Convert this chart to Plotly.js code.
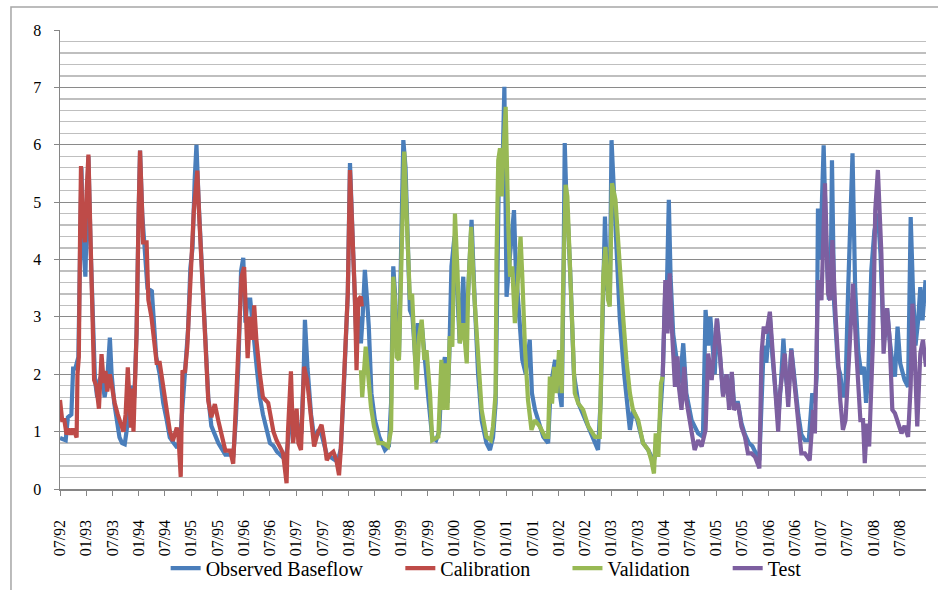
<!DOCTYPE html>
<html>
<head>
<meta charset="utf-8">
<script src="https://cdn.plot.ly/plotly-3.0.1.min.js"></script>
<style>
  html, body { margin: 0; padding: 0; background: #ffffff; }
  #chart { width: 938px; height: 590px; }
</style>
</head>
<body>
<div id="chart"></div>
<script>
// x values: months elapsed since July 1992 (position)
const tickLabels = ['07/92','01/93','07/93','01/94','07/94','01/95','07/95','01/96','07/96','01/97','07/97',
  '01/98','07/98','01/99','07/99','01/00','07/00','01/01','07/01','01/02','07/02','01/03','07/03',
  '01/04','07/04','01/05','07/05','01/06','07/06','01/07','07/07','01/08','07/08'];

const obsX = [
  0,0.7,1.3,1.8,2.6,3.0,3.5,4.2,4.6,4.9,
  5.3,5.8,6.2,6.5,7.0,7.5,8.0,8.5,9.0,9.6,
  10.2,10.8,11.4,11.8,12.4,13.0,13.6,14.2,14.8,15.2,
  15.8,16.4,17.0,17.5,18.0,18.3,18.8,19.3,20.0,21.0,
  21.4,22.0,22.8,23.6,24.4,25.1,26.0,26.8,27.5,28.2,
  28.8,29.3,29.8,30.3,30.8,31.2,31.7,32.4,33.1,33.9,
  34.6,35.4,36.2,37.0,37.8,38.9,39.6,40.2,40.8,41.4,
  41.9,42.4,42.9,43.5,44.0,44.5,45.0,45.7,46.4,47.3,
  48.0,48.8,49.6,50.3,51.0,51.6,52.1,52.8,53.3,54.1,
  54.6,55.2,55.7,56.0,56.6,57.4,58.1,58.9,59.8,60.4,
  61.0,62.0,63.0,63.6,64.2,64.8,65.2,65.8,66.3,66.8,
  67.4,67.8,68.3,68.8,69.2,69.7,70.2,70.6,71.2,72.0,
  73.0,74.3,75.2,75.7,76.2,76.6,77.0,77.5,78.0,78.5,
  79.0,79.5,80.0,80.6,81.2,81.8,82.3,82.8,83.4,84.2,
  85.1,86.0,86.7,87.3,88.0,88.6,89.0,89.5,90.2,90.8,
  91.4,92.2,92.7,93.3,94.1,94.8,95.6,96.4,97.5,98.3,
  99.0,99.6,100.0,100.4,100.9,101.3,101.6,101.9,102.1,102.8,
  103.8,104.2,105.1,105.7,106.5,107.4,107.9,108.6,110.5,111.6,
  112.2,113.2,114.0,114.7,115.1,115.4,115.8,116.2,116.8,117.5,
  118.5,119.6,121.0,122.0,123.0,123.6,124.2,124.6,125.1,125.7,
  126.1,126.6,127.2,128.0,129.0,130.3,131.0,132.0,133.3,134.5,
  135.3,135.8,136.5,137.0,137.8,138.4,138.8,139.2,139.6,140.2,
  141.0,141.7,142.5,143.2,144.4,145.9,147.0,147.6,148.2,148.7,
  149.2,149.7,150.2,150.9,151.6,152.4,153.0,153.6,154.1,155.0,
  155.8,156.6,157.5,158.3,159.2,159.9,160.4,160.9,161.5,162.3,
  162.9,163.4,164.2,164.8,165.4,165.9,166.5,167.2,168.0,168.8,
  169.5,170.3,171.2,172.0,172.6,173.0,173.3,173.8,174.6,175.2,
  175.8,176.2,176.5,177.0,177.9,178.4,179.0,179.6,180.2,181.2,
  181.8,182.5,183.2,183.8,184.3,184.8,185.5,186.2,187.0,187.6,
  188.3,189.1,189.7,190.3,190.9,191.5,192.1,193.1,193.9,194.5,
  195.0,195.6,196.2,196.7,197.2,197.9];
const obsY = [
  0.89,0.87,0.85,1.25,1.3,2.1,2.1,2.3,4.0,5.6,
  4.3,3.7,5.0,5.8,4.2,2.8,1.9,1.6,1.9,2.0,
  1.6,1.9,2.64,2.0,1.5,1.2,0.9,0.8,0.78,1.0,
  1.5,1.8,1.6,2.7,4.9,5.9,4.8,4.2,3.5,3.45,
  2.9,2.3,2.0,1.5,1.2,0.9,0.8,0.72,0.9,1.6,
  2.3,2.8,3.85,4.2,5.4,6.0,5.0,3.8,2.7,1.6,
  1.1,0.95,0.8,0.7,0.6,0.6,0.55,1.2,2.2,3.8,
  4.03,2.9,3.3,3.3,2.8,2.5,2.1,1.6,1.3,1.0,
  0.8,0.75,0.65,0.6,0.55,0.5,0.8,1.3,1.0,1.2,
  1.0,1.0,2.0,2.95,2.1,1.3,0.9,1.0,0.95,0.8,
  0.6,0.55,0.5,0.5,0.7,1.6,2.5,3.4,5.68,4.6,
  3.4,2.5,3.0,2.54,3.0,3.82,3.3,2.83,1.67,1.2,
  0.91,0.68,0.75,1.5,3.88,3.4,2.4,2.3,4.2,6.08,
  5.6,4.0,3.12,3.0,2.3,2.89,2.6,2.8,2.2,1.6,
  0.9,0.85,1.0,2.0,2.3,1.5,2.3,3.88,4.4,3.5,
  2.54,3.7,2.6,3.4,4.69,3.3,2.0,1.2,0.8,0.68,
  0.9,1.5,4.5,5.8,5.27,6.0,7.01,5.0,3.35,4.0,
  4.86,3.88,2.83,2.25,2.0,2.6,1.67,1.38,0.91,0.8,
  1.8,2.25,1.8,1.43,3.5,6.03,5.0,4.57,3.5,2.0,
  1.5,1.3,1.03,0.85,0.68,1.5,3.2,4.75,3.5,3.3,
  6.08,5.27,4.6,2.95,2.0,1.03,1.38,1.2,0.8,0.68,
  0.55,0.5,0.7,1.0,1.96,3.5,3.64,5.04,3.7,2.7,
  2.25,1.84,2.54,1.67,1.2,0.97,0.91,3.12,2.5,3.0,
  2.5,2.0,2.97,2.4,1.65,2.0,1.5,2.0,1.5,1.5,
  1.15,0.95,0.8,0.75,0.6,0.5,1.5,2.5,2.2,3.0,
  2.3,1.84,1.2,1.8,2.62,2.0,1.6,2.45,1.8,1.3,
  0.95,0.85,0.85,1.67,1.5,1.96,4.89,4.0,5.99,4.2,
  3.3,3.5,5.73,3.23,2.13,2.0,1.6,1.78,3.47,5.85,
  3.5,2.4,2.0,2.13,1.5,2.0,3.82,4.5,4.8,4.1,
  2.6,3.15,2.6,2.2,1.96,2.83,2.19,1.9,1.78,4.74,
  3.5,2.5,2.94,3.52,2.94,3.64];

const calX = [
  0,0.5,1,1.5,2,2.5,3,3.5,3.8,4.0,
  4.3,4.6,4.8,5.2,5.7,6.1,6.5,7.0,7.5,7.8,
  8.3,8.9,9.5,10.0,10.4,10.8,11.4,12.0,12.5,13.2,
  14.0,14.5,15.0,15.5,16.2,16.5,16.8,17.5,18.0,18.3,
  18.7,19.0,19.8,20.2,20.9,21.3,22.1,22.8,23.6,24.4,
  25.1,25.8,26.7,27.1,27.6,28.0,28.6,29.1,29.7,30.1,
  30.6,31.0,31.4,31.8,32.4,33.1,33.9,34.6,35.4,36.2,
  37.0,37.8,38.9,39.6,40.0,40.8,41.5,42.1,42.9,43.4,
  44.0,44.4,44.9,45.7,46.4,47.6,48.8,49.5,50.3,51.0,
  51.8,52.1,52.8,53.3,54.1,54.5,55.1,55.8,56.5,57.4,
  58.1,58.9,59.8,60.4,61.0,61.7,62.5,63.2,63.8,64.2,
  64.8,65.1,65.8,66.3,66.8,67.4,67.8,68.2,68.8,69.0];
const calY = [
  1.55,1.2,1.2,0.95,1.05,0.95,1.05,0.95,0.9,2.0,
  2.3,4.5,5.63,4.6,4.3,5.2,5.83,4.3,2.8,1.9,
  1.8,1.4,2.35,1.85,2.06,1.7,2.0,1.7,1.5,1.3,
  1.1,1.0,1.3,2.12,1.07,1.75,1.0,2.7,4.9,5.9,
  5.0,4.3,4.3,3.3,3.0,2.7,2.2,2.2,1.77,1.37,
  1.02,0.84,1.07,0.9,0.21,2.04,2.05,2.48,3.6,4.2,
  4.85,5.2,5.55,4.8,3.75,2.7,1.54,1.25,1.48,1.19,
  0.96,0.67,0.67,0.44,1.1,2.35,3.7,3.87,2.28,3.0,
  2.6,3.2,2.6,2.0,1.6,1.5,1.0,0.85,0.74,0.62,
  0.1,0.97,2.05,0.8,1.4,0.8,0.68,2.13,1.9,1.23,
  0.74,0.97,1.12,0.85,0.5,0.6,0.65,0.5,0.24,0.68,
  1.67,2.48,3.41,5.56,4.57,3.4,2.07,3.3,3.35,3.18];

const valX = [
  68.8,69.1,69.9,70.5,71.1,71.8,72.8,73.9,75.0,75.7,
  76.2,76.6,77.0,77.5,78.1,78.7,79.5,80.0,80.5,81.0,
  81.5,82.1,82.7,83.3,83.8,84.6,85.1,86.5,87.2,87.6,
  88.2,88.6,89.1,89.7,90.3,90.9,91.4,92.2,93.0,93.3,
  94.0,94.7,95.6,96.4,97.5,98.5,99.0,99.6,99.8,100.2,
  100.6,101.0,101.3,101.9,102.5,102.9,103.4,104.0,104.6,105.3,
  105.7,106.3,107.0,107.8,108.6,109.7,110.9,111.6,112.0,112.5,
  113.0,113.5,114.1,114.7,115.0,115.6,116.0,116.6,117.1,117.7,
  118.5,119.6,120.8,122.3,123.4,123.8,124.2,124.7,125.3,125.7,
  126.2,127.0,127.8,128.8,129.5,130.3,131.0,132.2,133.3,134.5,
  135.2,135.8,136.2,136.8,137.4,137.8];
const valY = [
  2.07,1.6,2.48,1.96,1.43,1.09,0.8,0.8,0.74,1.03,
  3.7,3.3,2.3,2.25,4.0,5.88,4.28,3.3,3.4,2.54,
  1.73,2.66,2.95,2.25,2.42,1.67,0.85,0.91,2.25,1.38,
  2.19,1.38,2.66,2.48,4.8,3.76,2.54,2.89,2.19,3.4,
  4.57,3.4,2.25,1.38,0.91,0.85,1.09,1.67,4.0,5.73,
  5.94,5.1,5.73,6.66,4.57,3.7,3.88,2.89,3.53,4.4,
  3.7,2.48,1.55,1.03,1.2,1.09,0.91,0.91,1.96,1.49,
  2.13,1.67,2.42,1.67,3.41,5.3,5.1,4.0,2.83,1.67,
  1.49,1.38,1.09,0.91,0.91,2.25,3.7,4.22,3.3,3.18,
  5.33,5.04,4.0,2.95,2.25,1.67,1.38,1.2,0.8,0.68,
  0.5,0.27,0.97,0.56,1.84,1.96];

const testX = [
  137.8,138.4,138.9,139.4,139.8,140.6,141.2,141.5,142.1,142.7,
  143.2,144.4,145.1,145.9,146.7,147.6,148.2,149.0,149.7,150.2,
  150.9,151.6,152.4,153.0,153.6,154.1,155.0,155.8,156.6,157.3,
  158.1,158.9,159.9,160.4,160.9,161.5,162.3,162.9,163.4,164.2,
  164.6,165.7,166.5,167.2,168.0,168.8,169.5,170.3,171.4,172.2,
  172.6,173.3,174.1,174.9,175.6,176.1,176.6,177.2,177.9,178.4,
  179.0,179.6,180.2,181.3,182.1,183.0,183.6,184.0,184.5,185.0,
  185.9,186.4,187.0,187.8,188.3,189.1,189.7,190.3,190.9,191.5,
  192.4,193.1,193.9,194.5,194.9,195.4,196.0,196.7,197.3,198.0];
const testY = [
  1.96,3.64,2.71,3.76,2.95,1.78,2.31,1.78,1.38,2.13,
  1.55,1.03,0.68,0.85,0.74,1.03,2.36,1.9,2.54,2.97,
  2.36,1.61,2.0,1.38,2.04,1.38,1.49,1.09,0.91,0.62,
  0.62,0.56,0.36,2.36,2.83,2.71,3.09,2.36,1.84,1.0,
  1.67,2.36,1.43,2.42,1.78,1.2,0.62,0.62,0.5,1.38,
  0.97,3.64,3.29,5.33,3.41,3.29,4.34,3.2,2.13,1.55,
  1.03,1.2,2.0,3.58,2.36,1.2,1.2,0.45,1.14,0.74,
  2.65,4.86,5.56,4.1,2.36,3.15,2.6,1.38,1.32,1.2,
  0.97,1.1,0.91,1.8,3.23,2.36,1.09,2.36,2.6,2.13];

const seriesNames = ['Observed Baseflow', 'Calibration', 'Validation', 'Test'];
const seriesColors = ['#4A7EBB', '#BE4B48', '#98B954', '#7D5FA0'];

const FONT = 'Liberation Serif';
const xs = [obsX, calX, valX, testX];
const ys = [obsY, calY, valY, testY];
const legendIds = ['legend', 'legend2', 'legend3', 'legend4'];

const traces = xs.map((x, i) => ({
  type: 'scatter',
  mode: 'lines',
  name: seriesNames[i],
  x: x,
  y: ys[i],
  legend: legendIds[i],
  line: { color: seriesColors[i], width: 4.2 },
  hoverinfo: 'skip'
}));

const legendXs = [0.122, 0.393, 0.586, 0.771];
const legendBase = {
  orientation: 'h',
  yanchor: 'middle',
  xanchor: 'left',
  y: -0.1726,
  bgcolor: 'rgba(0,0,0,0)',
  borderwidth: 0,
  font: { family: FONT, size: 20, color: '#000000' }
};

const layout = {
  width: 938,
  height: 590,
  margin: { l: 60, r: 12, t: 30, b: 101, pad: 0, autoexpand: false },
  paper_bgcolor: '#ffffff',
  plot_bgcolor: '#ffffff',
  font: { family: FONT, size: 16, color: '#000000' },
  showlegend: true,
  xaxis: {
    type: 'linear',
    automargin: false,
    range: [0, 198],
    tickmode: 'array',
    tickvals: tickLabels.map((_, i) => i * 6),
    ticktext: tickLabels,
    tickangle: -90,
    ticks: 'outside',
    ticklen: 5,
    tickwidth: 1,
    tickcolor: '#868686',
    ticklabelstandoff: 18,
    showline: true,
    linecolor: '#868686',
    linewidth: 1.5,
    showgrid: false,
    zeroline: false,
    tickfont: { family: FONT, size: 16, color: '#000000' },
    fixedrange: true
  },
  yaxis: {
    automargin: false,
    range: [0, 8],
    tickmode: 'linear',
    tick0: 0,
    dtick: 1,
    ticks: 'outside',
    ticklen: 5,
    tickwidth: 1,
    tickcolor: '#868686',
    ticklabelstandoff: 9,
    showline: true,
    linecolor: '#868686',
    linewidth: 1.5,
    showgrid: true,
    gridcolor: '#8a8a8a',
    gridwidth: 1.2,
    minor: { dtick: 0.2, showgrid: true, gridcolor: '#bfbfbf', gridwidth: 1.3, ticks: '' },
    zeroline: false,
    tickfont: { family: FONT, size: 16, color: '#000000' },
    fixedrange: true
  },
  shapes: [{
    type: 'rect', xref: 'paper', yref: 'paper',
    x0: -0.0566, x1: 1.2, y0: -0.4, y1: 1.05,
    line: { color: '#a6a6a6', width: 1.5 },
    fillcolor: 'rgba(0,0,0,0)',
    layer: 'below'
  }]
};
legendIds.forEach((id, i) => {
  layout[id] = Object.assign({}, legendBase, { x: legendXs[i] });
});

Plotly.newPlot('chart', traces, layout, { displayModeBar: false, staticPlot: true });
</script>
</body>
</html>
